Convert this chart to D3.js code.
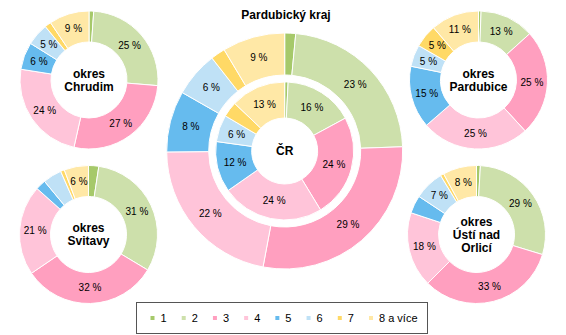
<!DOCTYPE html>
<html><head><meta charset="utf-8">
<script src="https://cdn.jsdelivr.net/npm/d3@7"></script>
<style>body{margin:0;background:#fff}svg{display:block}text{font-family:Arial,"Liberation Sans",sans-serif}</style>
</head><body>
<svg id="c" width="566" height="335"></svg>
<script>
const categories = ["1","2","3","4","5","6","7","8 a více"];
const colors = ["#a6c96a","#cde0ab","#ff9fbf","#ffc4d9","#66bbee","#bfe1f6","#ffd966","#ffe8a6"];
const chrudim   = [1.1, 25.2, 27.2, 24.0, 6.4, 5.2, 1.5, 9.4];
const svitavy   = [2.4, 31.2, 31.9, 21.1, 2.4, 4.4, 0.9, 5.7];
const pardubice = [0.6, 12.7, 24.9, 25.4, 14.6, 5.1, 5.4, 11.3];
const usti      = [0.9, 28.8, 32.8, 17.6, 4.2, 7.0, 0.8, 7.9];
const kraj      = [1.5, 23.0, 28.6, 22.0, 8.4, 6.2, 2.0, 8.6];
const cr        = [0.8, 16.3, 24.2, 24.0, 11.9, 6.3, 3.6, 12.9];
const title = "Pardubický kraj";

const svg = d3.select("#c");
const pie = d3.pie().sort(null).value(d => d);

function donut(values, cx, cy, r0, r1, lines) {
  const g = svg.append("g").attr("transform", `translate(${cx},${cy})`);
  const arc = d3.arc().innerRadius(r0).outerRadius(r1);
  const arcs = pie(values);
  g.selectAll("path").data(arcs).join("path")
    .attr("d", arc).attr("fill", (d, i) => colors[i])
    .attr("stroke", "#fff").attr("stroke-width", 1);
  g.selectAll("text.v").data(arcs.filter(d => Math.round(d.data) >= 5)).join("text")
    .attr("class", "v")
    .attr("transform", d => `translate(${arc.centroid(d)})`)
    .attr("text-anchor", "middle").attr("dy", "0.35em")
    .attr("font-size", 10).attr("fill", "#000")
    .text(d => Math.round(d.data) + " %");
  if (lines) {
    const lh = 13.2;
    const t = g.append("text").attr("text-anchor", "middle").attr("font-size", 12).attr("font-weight", "bold");
    lines.forEach((l, i) => {
      t.append("tspan").attr("x", 0).attr("y", (i - (lines.length - 1) / 2) * lh).attr("dy", "0.35em").text(l);
    });
  }
}

donut(chrudim, 89, 80, 38, 69, ["okres", "Chrudim"]);
donut(svitavy, 88.5, 234.5, 38, 69, ["okres", "Svitavy"]);
donut(pardubice, 478.5, 80, 38, 69, ["okres", "Pardubice"]);
donut(usti, 476.5, 234.5, 38, 69, ["okres", "Ústí nad", "Orlicí"]);
donut(kraj, 284.7, 151, 76, 118, null);
donut(cr, 284.7, 151, 33, 69, ["ČR"]);

svg.append("text").attr("x", 286).attr("y", 19).attr("text-anchor", "middle")
  .attr("font-size", 12).attr("font-weight", "bold").text(title);

// legend
const lg = svg.append("g");
lg.append("rect").attr("x", 136.5).attr("y", 302.5).attr("width", 291).attr("height", 31)
  .attr("fill", "#fff").attr("stroke", "#555").attr("stroke-width", 1);
const lx = d3.scalePoint().domain(categories).range([150.5, 369]);
const items = lg.selectAll("g").data(categories).join("g")
  .attr("transform", d => `translate(${lx(d)},318)`);
items.append("rect").attr("x", 0).attr("y", -2).attr("width", 4).attr("height", 4)
  .attr("fill", (d, i) => colors[i]);
items.append("text").attr("x", 10).attr("dy", "0.35em").attr("font-size", 11).text(d => d);
</script>
</body></html>
